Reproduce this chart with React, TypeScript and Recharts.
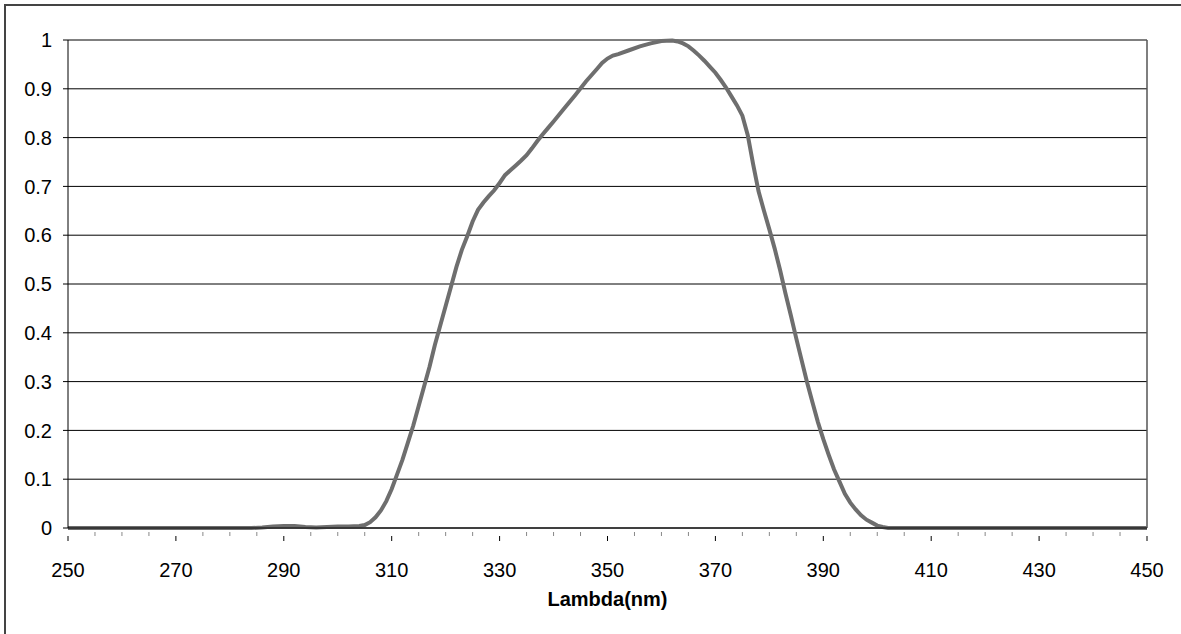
import { LineChart, Line, XAxis, YAxis, CartesianGrid, ReferenceLine, Label } from "recharts";

// wavelength (nm) and relative response
const lambda = [
  250, 260, 270, 280, 284, 286, 288, 290, 292, 294, 296, 298, 300, 302, 304, 305, 306, 307, 308, 309,
  310, 311, 312, 313, 314, 315, 316, 317, 318, 319, 320, 321, 322, 323, 324, 325, 326, 327, 328, 329,
  330, 331, 332, 333, 334, 335, 336, 337, 338, 339, 340, 342, 344, 346, 348, 349, 350, 351, 352, 354,
  356, 358, 360, 362, 363, 364, 365, 366, 367, 368, 369, 370, 371, 372, 373, 374, 375, 376, 377, 378,
  379, 380, 381, 382, 383, 384, 385, 386, 387, 388, 389, 390, 391, 392, 393, 394, 395, 396, 397, 398,
  399, 400, 401, 402, 404, 410, 420, 430, 440, 450,
];
const response = [
  0, 0, 0, 0, 0, 0.001, 0.003, 0.004, 0.004, 0.002, 0.001, 0.002, 0.003, 0.003, 0.004, 0.006, 0.012, 0.022, 0.036, 0.055,
  0.08, 0.11, 0.14, 0.175, 0.21, 0.25, 0.29, 0.33, 0.375, 0.415, 0.455, 0.495, 0.535, 0.57, 0.598, 0.628, 0.652, 0.667, 0.68, 0.692,
  0.707, 0.723, 0.733, 0.743, 0.753, 0.764, 0.778, 0.793, 0.807, 0.82, 0.833, 0.86, 0.887, 0.915, 0.94, 0.953, 0.962, 0.968, 0.971, 0.979,
  0.987, 0.993, 0.998, 0.999, 0.997, 0.993, 0.987, 0.978, 0.968, 0.957, 0.945, 0.933, 0.918, 0.902, 0.884, 0.866, 0.845, 0.805, 0.745, 0.69,
  0.65, 0.612, 0.572, 0.528, 0.48, 0.435, 0.388, 0.343, 0.298, 0.257, 0.217, 0.182, 0.15, 0.12, 0.095, 0.07, 0.052, 0.038, 0.026, 0.017,
  0.011, 0.005, 0.002, 0, 0, 0, 0, 0, 0, 0,
];

const xTicks = [
  250, 255, 260, 265, 270, 275, 280, 285, 290, 295, 300, 305, 310, 315, 320, 325, 330, 335, 340, 345,
  350, 355, 360, 365, 370, 375, 380, 385, 390, 395, 400, 405, 410, 415, 420, 425, 430, 435, 440, 445, 450,
];
const yTicks = [0, 0.1, 0.2, 0.3, 0.4, 0.5, 0.6, 0.7, 0.8, 0.9, 1];

const data = lambda.map((l, i) => ({ l, v: response[i] }));

const FONT = "'Liberation Sans', Arial, sans-serif";

function XTick(props: any) {
  const { x, y, payload } = props;
  const major = (payload.value - 250) % 20 === 0;
  if (!major) {
    return <line x1={x} x2={x} y1={y} y2={y - 4} stroke="#888" strokeWidth={1} />;
  }
  return (
    <g>
      <line x1={x} x2={x} y1={y} y2={y + 5} stroke="#000" strokeWidth={1} />
      <text x={x} y={y + 41} textAnchor="middle" fontSize={20} fontFamily={FONT} fill="#000">
        {payload.value}
      </text>
    </g>
  );
}

export default function App() {
  return (
    <div
      style={{
        position: "fixed",
        left: 0,
        top: 0,
        width: 1181,
        height: 634,
        overflow: "hidden",
        background: "#fff",
      }}
    >
      <div
        style={{
          position: "absolute",
          left: 4,
          top: 4,
          right: -20,
          bottom: -20,
          borderLeft: "2px solid #444",
          borderTop: "2px solid #444",
        }}
      />
      <LineChart
        width={1181}
        height={634}
        data={data}
        margin={{ top: 40, right: 34, bottom: 66, left: 0 }}
        style={{ position: "absolute", left: 0, top: 0, fontFamily: FONT }}
      >
        <CartesianGrid vertical={false} stroke="#000" strokeWidth={1} />
        <XAxis
          dataKey="l"
          type="number"
          domain={[250, 450]}
          ticks={xTicks}
          interval={0}
          height={40}
          axisLine={{ stroke: "#000" }}
          tickLine={false}
          tick={<XTick />}
        >
          <Label
            value="Lambda(nm)"
            position="bottom"
            offset={24}
            style={{ fontSize: 20, fontWeight: 700, fill: "#000", fontFamily: FONT }}
          />
        </XAxis>
        <YAxis
          type="number"
          domain={[0, 1]}
          ticks={yTicks}
          interval={0}
          width={68}
          tickSize={5}
          tickMargin={11}
          axisLine={{ stroke: "#000" }}
          tickLine={{ stroke: "#000" }}
          tick={{ fontSize: 20, fill: "#000", fontFamily: FONT }}
        />
        <ReferenceLine x={450} stroke="#555" strokeWidth={1.5} ifOverflow="visible" />
        <Line
          dataKey="v"
          type="linear"
          stroke="#6e6e6e"
          strokeWidth={4}
          dot={false}
          isAnimationActive={false}
        />
      </LineChart>
    </div>
  );
}
